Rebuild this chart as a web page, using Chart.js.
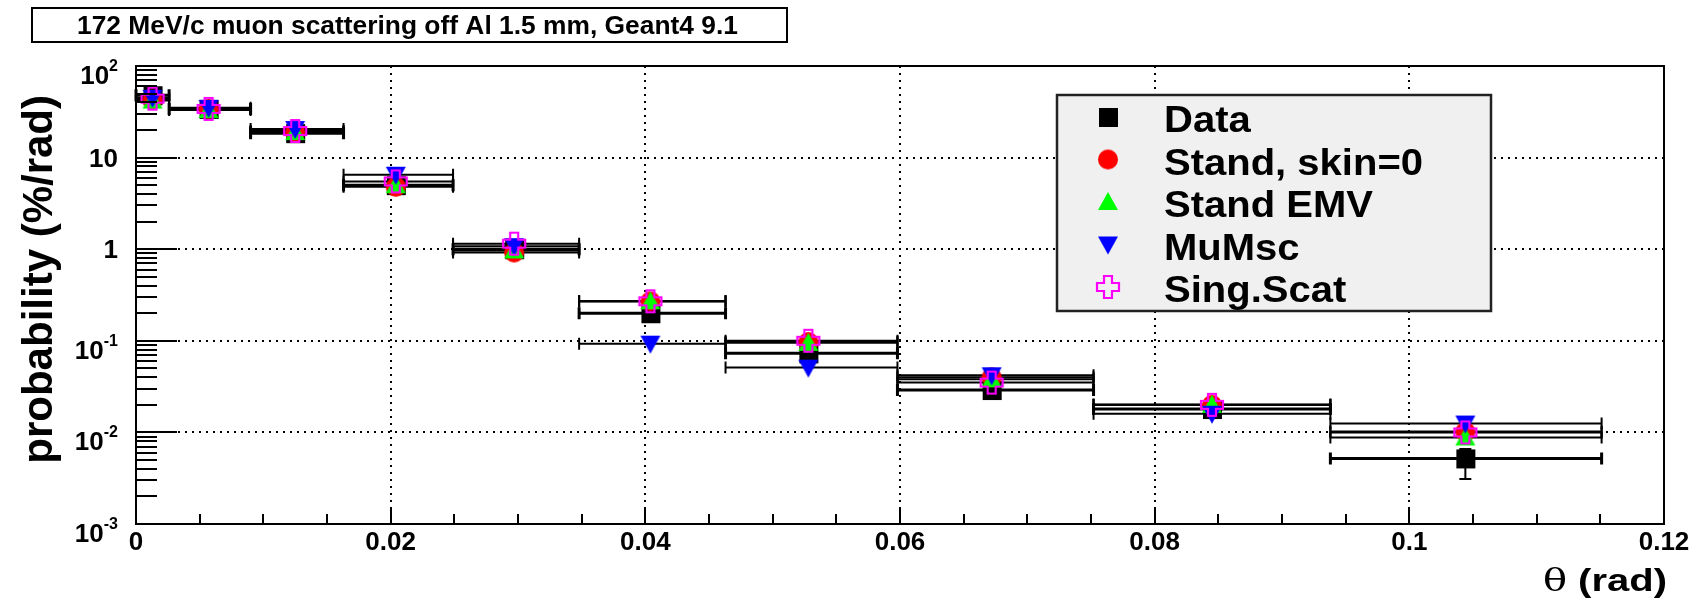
<!DOCTYPE html>
<html>
<head>
<meta charset="utf-8">
<script src="https://cdn.jsdelivr.net/npm/chart.js@4.4.1/dist/chart.umd.min.js"></script>
<style>
  html, body { margin: 0; padding: 0; background: #fff; }
  #wrap { width: 1702px; height: 610px; }
</style>
</head>
<body>
<div id="wrap"><canvas id="chart" width="1702" height="610"></canvas></div>
<script>
// bins in theta (rad)
const binLo = [0, 0.0026, 0.0090, 0.0163, 0.0249, 0.0348, 0.0463, 0.0598, 0.0752, 0.0938];
const binHi = [0.0026, 0.0090, 0.0163, 0.0249, 0.0348, 0.0463, 0.0598, 0.0752, 0.0938, 0.1151];
const thetaPos = [0.0013, 0.0057, 0.0125, 0.0204, 0.0297, 0.0404, 0.0528, 0.0672, 0.0845, 0.1044];

// probability (%/rad) per series
const dataVals  = [48, 34, 18.5, 5.0, 1.0, 0.20, 0.073, 0.029, 0.018, 0.0052];
const dataErrLo = [46, 33, 18.0, 4.8, 0.96, 0.19, 0.069, 0.027, 0.017, 0.0031];
const dataErrHi = [50, 35, 19.0, 5.2, 1.04, 0.21, 0.077, 0.031, 0.019, 0.0066];
const standVals = [43, 34, 19, 4.8, 0.92, 0.27, 0.097, 0.040, 0.020, 0.0102];
const emvVals   = [42, 33, 19, 5.0, 0.97, 0.27, 0.095, 0.038, 0.020, 0.0088];
const mumscVals = [45, 35, 20.5, 6.5, 1.08, 0.093, 0.051, 0.042, 0.016, 0.0125];
const singVals  = [44, 34, 19.5, 5.5, 1.15, 0.27, 0.100, 0.035, 0.020, 0.0100];

const seriesNames = ['Data', 'Stand, skin=0', 'Stand EMV', 'MuMsc', 'Sing.Scat'];

const xTickValues = [0, 0.02, 0.04, 0.06, 0.08, 0.1, 0.12];
const xTickLabels = ['0', '0.02', '0.04', '0.06', '0.08', '0.1', '0.12'];
const yTickValues = [0.001, 0.01, 0.1, 1, 10, 100];
const yTickBase = ['10', '10', '10', '1', '10', '10'];
const yTickExp  = ['-3', '-2', '-1', '', '', '2'];

const titleText = '172 MeV/c muon scattering off Al 1.5 mm, Geant4 9.1';
const FONT = '"Liberation Sans", Arial, sans-serif';

// marker images (ROOT style markers)
function makeMarker(kind, color) {
  const c = document.createElement('canvas');
  c.width = 26; c.height = 26;
  const g = c.getContext('2d');
  g.fillStyle = color; g.strokeStyle = color;
  const m = 13;
  if (kind === 'square') {
    g.fillRect(m - 9, m - 9, 19, 19);
  } else if (kind === 'circle') {
    g.beginPath(); g.arc(m, m, 10, 0, Math.PI * 2); g.fill();
  } else if (kind === 'up') {
    g.beginPath(); g.moveTo(m, m - 10); g.lineTo(m + 10, m + 8); g.lineTo(m - 10, m + 8); g.closePath(); g.fill();
  } else if (kind === 'down') {
    g.beginPath(); g.moveTo(m - 10, m - 8); g.lineTo(m + 10, m - 8); g.lineTo(m, m + 10); g.closePath(); g.fill();
  } else if (kind === 'cross') {
    const h = 11, a = 4;
    g.lineWidth = 2.2;
    g.beginPath();
    g.moveTo(m - a, m - h); g.lineTo(m + a, m - h); g.lineTo(m + a, m - a); g.lineTo(m + h, m - a);
    g.lineTo(m + h, m + a); g.lineTo(m + a, m + a); g.lineTo(m + a, m + h); g.lineTo(m - a, m + h);
    g.lineTo(m - a, m + a); g.lineTo(m - h, m + a); g.lineTo(m - h, m - a); g.lineTo(m - a, m - a);
    g.closePath(); g.stroke();
  }
  return c;
}

const markers = [
  makeMarker('square', '#000000'),
  makeMarker('circle', '#ff0000'),
  makeMarker('up', '#00ff00'),
  makeMarker('down', '#0000ff'),
  makeMarker('cross', '#ff00ff')
];
const allVals = [dataVals, standVals, emvVals, mumscVals, singVals];

const datasets = allVals.map((vals, s) => ({
  label: seriesNames[s],
  data: vals.map((v, i) => ({ x: thetaPos[i], y: v })),
  pointStyle: markers[s],
  pointRadius: 10,
  showLine: false,
  order: 5 - s
}));

const rootPlugin = {
  id: 'rootStyle',
  beforeDatasetsDraw(chart) {
    const { ctx, chartArea: a, scales: { x, y } } = chart;
    ctx.save();
    // dotted grid
    ctx.strokeStyle = '#000';
    ctx.lineWidth = 2;
    ctx.setLineDash([2, 5]);
    xTickValues.slice(1, -1).forEach(v => {
      const px = Math.round(x.getPixelForValue(v));
      ctx.beginPath(); ctx.moveTo(px, a.top); ctx.lineTo(px, a.bottom); ctx.stroke();
    });
    yTickValues.slice(1, -1).forEach(v => {
      const py = Math.round(y.getPixelForValue(v));
      ctx.beginPath(); ctx.moveTo(a.left, py); ctx.lineTo(a.right, py); ctx.stroke();
    });
    ctx.setLineDash([]);
    // horizontal error bars for all series
    allVals.forEach((vals, s) => {
      ctx.lineWidth = s === 0 ? 3 : 2;
      vals.forEach((v, i) => {
        const py = y.getPixelForValue(v);
        const x0 = x.getPixelForValue(binLo[i]);
        const x1 = x.getPixelForValue(binHi[i]);
        ctx.beginPath();
        ctx.moveTo(x0, py); ctx.lineTo(x1, py);
        ctx.moveTo(x0, py - 6); ctx.lineTo(x0, py + 6);
        ctx.moveTo(x1, py - 6); ctx.lineTo(x1, py + 6);
        ctx.stroke();
      });
    });
    // vertical error bars on data
    ctx.lineWidth = 2;
    dataVals.forEach((v, i) => {
      const px = x.getPixelForValue(thetaPos[i]);
      const lo = y.getPixelForValue(dataErrLo[i]);
      const hi = y.getPixelForValue(dataErrHi[i]);
      ctx.beginPath();
      ctx.moveTo(px, hi); ctx.lineTo(px, lo);
      ctx.moveTo(px - 6, lo); ctx.lineTo(px + 6, lo);
      ctx.moveTo(px - 6, hi); ctx.lineTo(px + 6, hi);
      ctx.stroke();
    });
    ctx.restore();
  },
  afterDraw(chart) {
    const { ctx, chartArea: a, scales: { x, y } } = chart;
    ctx.save();
    // frame
    ctx.strokeStyle = '#000';
    ctx.lineWidth = 2;
    ctx.strokeRect(a.left, a.top, a.right - a.left, a.bottom - a.top);
    // x ticks (inside)
    for (let k = 0; k <= 24; k++) {
      const px = Math.round(x.getPixelForValue(k * 0.005));
      const len = k % 4 === 0 ? 17 : 10;
      ctx.beginPath(); ctx.moveTo(px, a.bottom); ctx.lineTo(px, a.bottom - len); ctx.stroke();
    }
    // y ticks (inside)
    for (let e = -3; e <= 1; e++) {
      for (let k = 1; k <= 9; k++) {
        const py = Math.round(y.getPixelForValue(k * Math.pow(10, e)));
        const len = k === 1 ? 41 : 21;
        ctx.beginPath(); ctx.moveTo(a.left, py); ctx.lineTo(a.left + len, py); ctx.stroke();
      }
    }
    // tick labels
    ctx.fillStyle = '#000';
    ctx.textBaseline = 'alphabetic';
    ctx.font = 'bold 26px ' + FONT;
    ctx.textAlign = 'center';
    xTickValues.forEach((v, i) => {
      ctx.fillText(xTickLabels[i], x.getPixelForValue(v), a.bottom + 26);
    });
    yTickValues.forEach((v, i) => {
      const py = y.getPixelForValue(v);
      const rightX = a.left - 18;
      ctx.textAlign = 'right';
      if (yTickExp[i]) {
        ctx.font = 'bold 16px ' + FONT;
        const ew = ctx.measureText(yTickExp[i]).width;
        ctx.fillText(yTickExp[i], rightX, py + 5);
        ctx.font = 'bold 26px ' + FONT;
        ctx.fillText(yTickBase[i], rightX - ew, py + 18);
      } else {
        ctx.font = 'bold 26px ' + FONT;
        ctx.fillText(yTickBase[i], rightX, py + 9);
      }
    });
    // title box
    ctx.fillStyle = '#fff';
    ctx.fillRect(32, 8, 755, 34);
    ctx.strokeRect(32, 8, 755, 34);
    ctx.fillStyle = '#000';
    ctx.font = 'bold 25px ' + FONT;
    ctx.textAlign = 'center';
    ctx.textBaseline = 'alphabetic';
    const ttw = ctx.measureText(titleText).width;
    ctx.save();
    ctx.translate(407.5, 34);
    ctx.scale(661 / ttw, 1);
    ctx.fillText(titleText, 0, 0);
    ctx.restore();
    // legend
    const lx = 1057, ly = 95, lw = 434, lh = 216;
    ctx.fillStyle = '#f0f0f0';
    ctx.fillRect(lx, ly, lw, lh);
    ctx.strokeStyle = '#222';
    ctx.lineWidth = 2.5;
    ctx.strokeRect(lx, ly, lw, lh);
    ctx.font = 'bold 40px ' + FONT;
    ctx.textAlign = 'left';
    ctx.fillStyle = '#000';
    seriesNames.forEach((name, s) => {
      const ry = 117 + s * 42.5;
      ctx.drawImage(markers[s], 1108 - 13, ry - 13);
      ctx.save();
      ctx.translate(1164, ry + 15);
      ctx.scale(1, 0.92);
      ctx.fillText(name, 0, 0);
      ctx.restore();
    });
    // x axis title
    ctx.save();
    ctx.translate(1667, 591);
    ctx.scale(1, 0.8);
    ctx.font = 'bold 40px ' + FONT;
    ctx.textAlign = 'right';
    const tail = ' (rad)';
    const tw = ctx.measureText(tail).width;
    ctx.fillText(tail, 0, 0);
    ctx.font = '40px "DejaVu Serif", serif';
    ctx.fillText('\u03B8', -tw, 0);
    ctx.restore();
    // y axis title
    ctx.save();
    ctx.translate(40, 95);
    ctx.rotate(-Math.PI / 2);
    ctx.font = 'bold 42px ' + FONT;
    ctx.textAlign = 'right';
    ctx.textBaseline = 'middle';
    ctx.fillText('probability (%/rad)', 0, 0);
    ctx.restore();
    ctx.restore();
  }
};

new Chart(document.getElementById('chart'), {
  type: 'scatter',
  data: { datasets },
  options: {
    responsive: false,
    animation: false,
    events: [],
    layout: { padding: { left: 0, right: 38, top: 66, bottom: 0 } },
    plugins: { legend: { display: false }, tooltip: { enabled: false }, title: { display: false } },
    scales: {
      x: {
        type: 'linear', min: 0, max: 0.12,
        afterFit: s => { s.height = 86; },
        grid: { display: false, drawTicks: false },
        border: { display: false },
        ticks: { display: false, stepSize: 0.02 }
      },
      y: {
        type: 'logarithmic', min: 0.001, max: 100,
        afterFit: s => { s.width = 136; },
        grid: { display: false, drawTicks: false },
        border: { display: false },
        ticks: { display: false }
      }
    }
  },
  plugins: [rootPlugin]
});
</script>
</body>
</html>
